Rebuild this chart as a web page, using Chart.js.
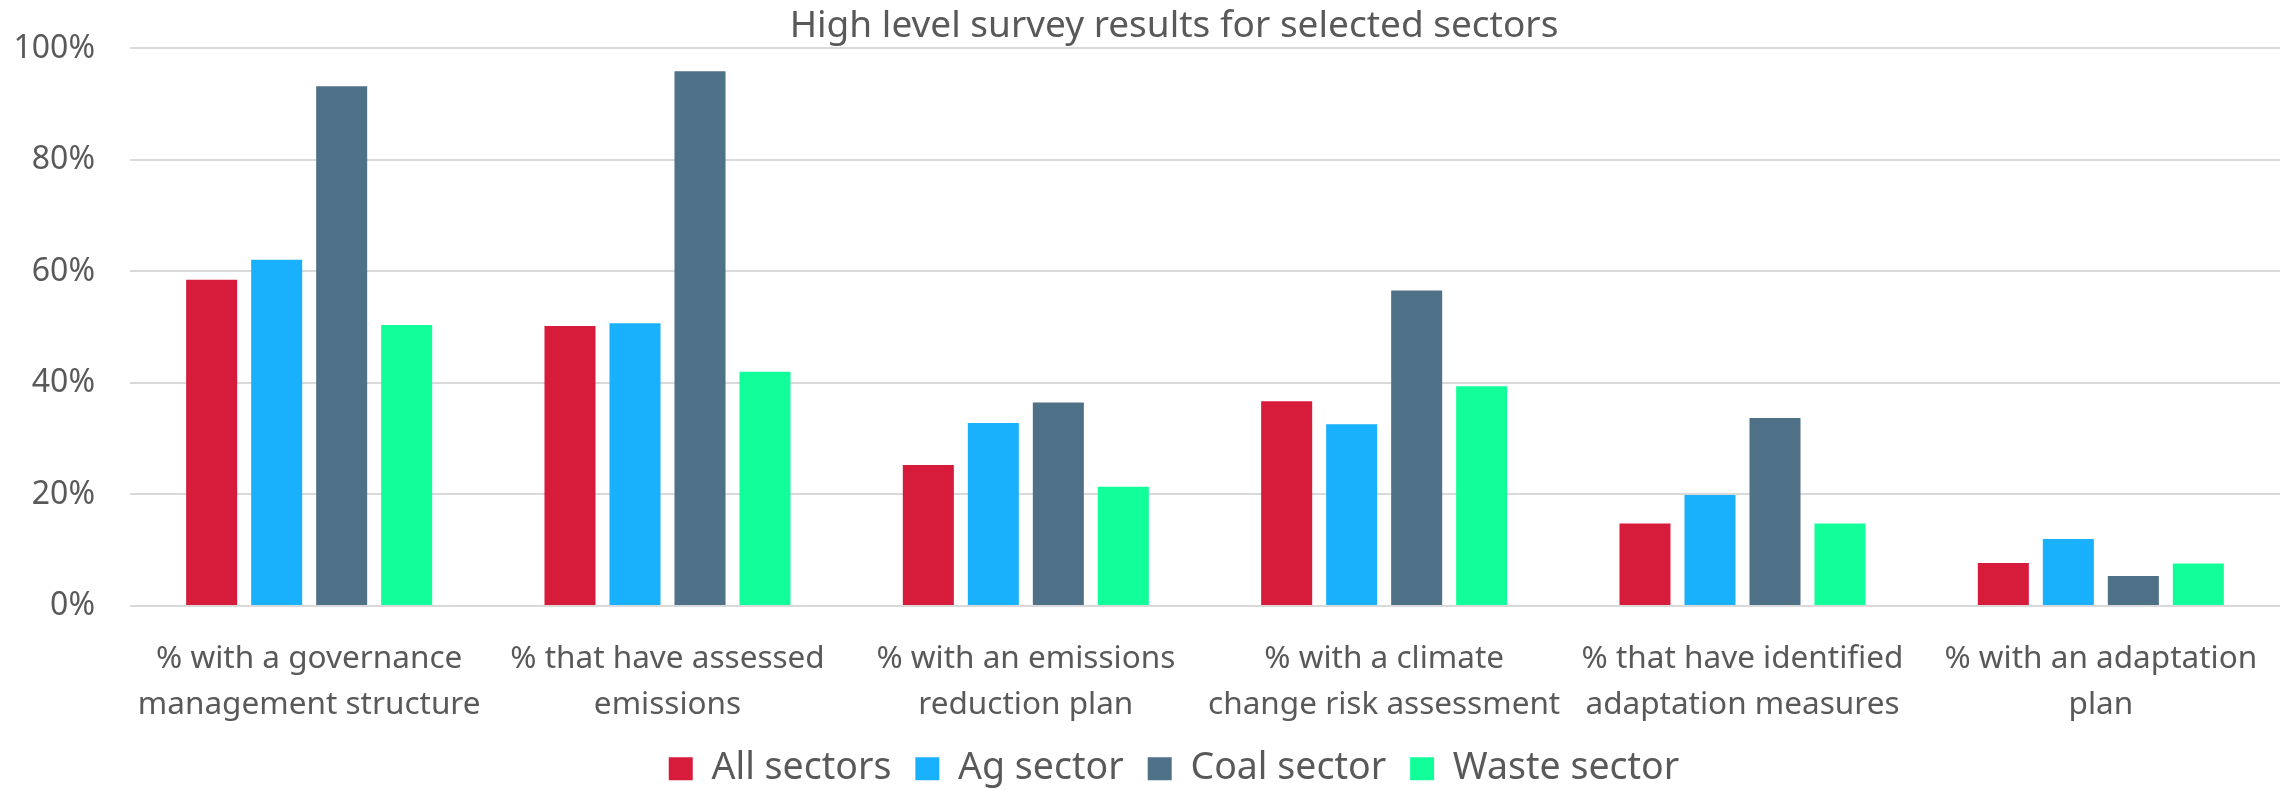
<!DOCTYPE html>
<html>
<head>
<meta charset="utf-8">
<script src="https://cdn.jsdelivr.net/npm/chart.js@4"></script>
<style>
  html, body { margin: 0; padding: 0; background: #fff; overflow: hidden; }
  #wrap { width: 2285px; height: 790px; }
</style>
</head>
<body>
<div id="wrap"><canvas id="surveyChart"></canvas></div>
<script>
// survey results (percent)
const categories = [
    ["% with a governance", "management structure"],
    ["% that have assessed", "emissions"],
    ["% with an emissions", "reduction plan"],
    ["% with a climate", "change risk assessment"],
    ["% that have identified", "adaptation measures"],
    ["% with an adaptation", "plan"]
];
const allSectors = [58.5, 50.2, 25.3, 36.7, 14.8, 7.7];
const agSector = [62.1, 50.7, 32.8, 32.6, 19.9, 12.0];
const coalSector = [93.2, 95.9, 36.5, 56.6, 33.7, 5.4];
const wasteSector = [50.4, 42.0, 21.4, 39.4, 14.8, 7.6];
const yTicks = [0, 20, 40, 60, 80, 100];

const textColor = "#595959";
const fontFamily = "'Noto Sans', 'Open Sans', sans-serif";

// the y axis box is kept narrow (so title + legend centre like the original),
// so let its labels draw past the box's left edge instead of being clipped
const unclipYLabels = {
    id: "unclipYLabels",
    afterLayout(chart) {
        chart.scales.y.left = 0;
    }
};

document.addEventListener("DOMContentLoaded", () => {
    const canvas = document.getElementById("surveyChart");

    const bar = (label, data, color) => ({
        label,
        data,
        backgroundColor: color,
        borderWidth: 0,
        categoryPercentage: 0.7256,
        barPercentage: 0.785
    });

    new Chart(canvas, {
        type: "bar",
        data: {
            labels: categories,
            datasets: [
                bar("All sectors", allSectors, "#D71B3B"),
                bar("Ag sector", agSector, "#19B0FC"),
                bar("Coal sector", coalSector, "#4E7188"),
                bar("Waste sector", wasteSector, "#12FE9A")
            ]
        },
        plugins: [unclipYLabels],
        options: {
            responsive: true,
            maintainAspectRatio: false,
            animation: false,
            devicePixelRatio: 1,
            layout: {
                autoPadding: false,
                padding: { left: 68, right: 5, top: 0, bottom: 0 }
            },
            plugins: {
                title: {
                    display: true,
                    text: "High level survey results for selected sectors",
                    color: textColor,
                    font: { family: fontFamily, size: 37, weight: "normal", lineHeight: 1.2 },
                    padding: { top: 4, bottom: 0 }
                },
                legend: {
                    position: "bottom",
                    maxHeight: 64,
                    labels: {
                        color: textColor,
                        font: { family: fontFamily, size: 37.5 },
                        boxWidth: 24,
                        boxHeight: 23,
                        padding: 24
                    }
                },
                tooltip: { enabled: false }
            },
            scales: {
                x: {
                    grid: { display: false, drawTicks: false },
                    border: { display: false },
                    ticks: {
                        color: textColor,
                        font: { family: fontFamily, size: 31.5, lineHeight: 1.43 },
                        padding: 31,
                        maxRotation: 0,
                        autoSkip: false
                    },
                    afterFit: (s) => {
                        s.paddingLeft = 0;
                        s.paddingRight = 0;
                        s.height = 120;
                    }
                },
                y: {
                    min: 0,
                    max: 100,
                    afterBuildTicks: (axis) => { axis.ticks = yTicks.map(v => ({ value: v })); },
                    afterFit: (s) => {
                        s.paddingTop = 0;
                        s.paddingBottom = 0;
                        s.width = 62;
                    },
                    grid: { color: "#D9D9D9", lineWidth: 2, drawTicks: false },
                    border: { display: false },
                    ticks: {
                        color: textColor,
                        font: { family: fontFamily, size: 32 },
                        padding: 35,
                        callback: (v) => v + "%"
                    }
                }
            }
        }
    });
});
</script>
</body>
</html>
